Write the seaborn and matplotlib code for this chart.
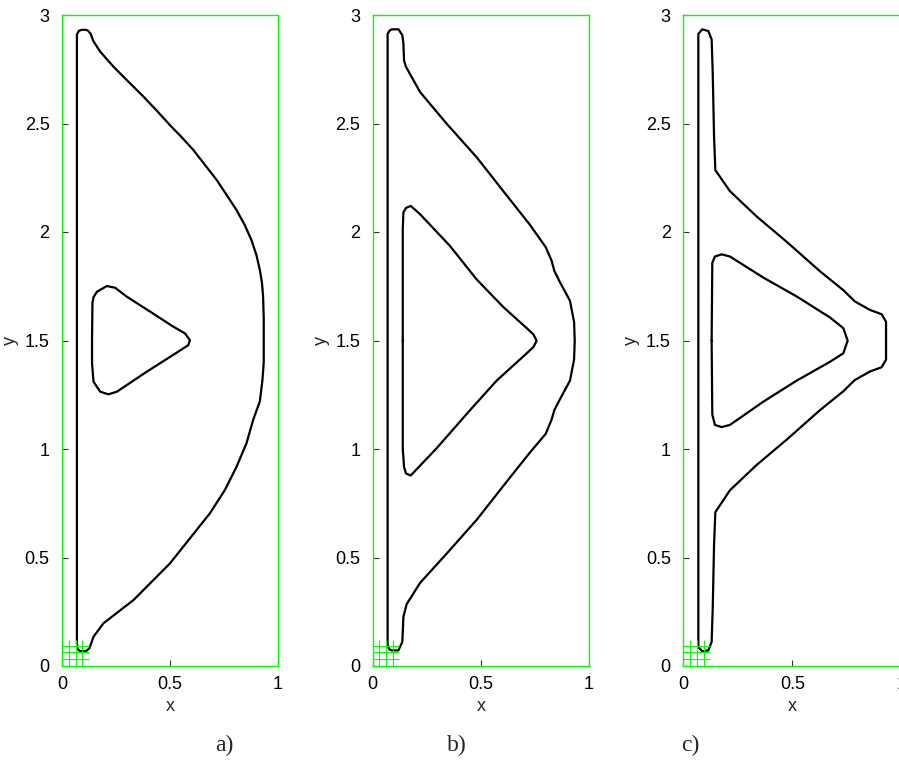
import numpy as np
import pandas as pd
import matplotlib
matplotlib.use("Agg")
import matplotlib.pyplot as plt
import seaborn as sns

sns.set_theme(style="white")
plt.rcParams["font.family"] = ["Liberation Sans", "DejaVu Sans"]

# ---- boundary contours (x, y) for the three designs ----
a_outer_x = [0.069, 0.069, 0.078, 0.092, 0.116, 0.132, 0.145, 0.177, 0.238, 0.300, 0.377, 0.439,
             0.500, 0.554, 0.608, 0.665, 0.716, 0.762, 0.808, 0.846, 0.877, 0.900, 0.916, 0.926,
             0.931, 0.934, 0.934, 0.928, 0.916, 0.885, 0.854, 0.808, 0.754, 0.685, 0.592, 0.500,
             0.415, 0.331, 0.261, 0.192, 0.146, 0.127, 0.112, 0.085, 0.072, 0.069]
a_outer_y = [0.105, 2.910, 2.927, 2.932, 2.931, 2.915, 2.880, 2.831, 2.762, 2.700, 2.624, 2.559,
             2.492, 2.437, 2.378, 2.305, 2.240, 2.171, 2.101, 2.032, 1.963, 1.894, 1.825, 1.764,
             1.702, 1.600, 1.400, 1.318, 1.220, 1.134, 1.026, 0.918, 0.811, 0.704, 0.588, 0.473,
             0.388, 0.304, 0.250, 0.197, 0.135, 0.082, 0.069, 0.068, 0.078, 0.105]
a_inner_x = [0.139, 0.141, 0.146, 0.162, 0.208, 0.246, 0.300, 0.408, 0.515, 0.569, 0.592, 0.585,
             0.531, 0.392, 0.254, 0.215, 0.177, 0.146, 0.139, 0.139]
a_inner_y = [1.500, 1.673, 1.700, 1.725, 1.751, 1.743, 1.702, 1.633, 1.564, 1.533, 1.502, 1.479,
             1.444, 1.356, 1.264, 1.252, 1.264, 1.310, 1.395, 1.500]

b_outer_x = [0.069, 0.069, 0.078, 0.088, 0.119, 0.137, 0.142, 0.145, 0.154, 0.219, 0.342, 0.481,
             0.604, 0.727, 0.800, 0.827, 0.840, 0.865, 0.912, 0.931, 0.934, 0.931, 0.912, 0.865,
             0.840, 0.827, 0.800, 0.727, 0.604, 0.481, 0.342, 0.219, 0.157, 0.142, 0.137, 0.119,
             0.088, 0.078, 0.069]
b_outer_y = [0.091, 2.913, 2.928, 2.934, 2.934, 2.907, 2.868, 2.790, 2.761, 2.645, 2.499, 2.344,
             2.188, 2.033, 1.930, 1.868, 1.820, 1.770, 1.683, 1.586, 1.499, 1.412, 1.315, 1.228,
             1.180, 1.135, 1.070, 0.984, 0.830, 0.674, 0.518, 0.383, 0.285, 0.227, 0.111, 0.072,
             0.072, 0.076, 0.091]
b_inner_x = [0.139, 0.139, 0.142, 0.154, 0.176, 0.219, 0.357, 0.481, 0.604, 0.712, 0.743, 0.758,
             0.743, 0.712, 0.573, 0.450, 0.296, 0.176, 0.154, 0.145, 0.139, 0.139]
b_inner_y = [1.500, 2.014, 2.091, 2.111, 2.120, 2.082, 1.936, 1.781, 1.654, 1.557, 1.528, 1.499,
             1.470, 1.441, 1.315, 1.179, 1.004, 0.878, 0.887, 0.917, 1.000, 1.500]

c_outer_x = [0.069, 0.069, 0.087, 0.115, 0.130, 0.135, 0.141, 0.147, 0.214, 0.336, 0.474, 0.627,
             0.734, 0.787, 0.856, 0.910, 0.930, 0.930, 0.910, 0.856, 0.787, 0.734, 0.627, 0.474,
             0.336, 0.214, 0.147, 0.141, 0.135, 0.130, 0.115, 0.087, 0.069]
c_outer_y = [0.087, 2.913, 2.934, 2.926, 2.887, 2.732, 2.441, 2.285, 2.188, 2.072, 1.955, 1.819,
             1.732, 1.680, 1.641, 1.621, 1.586, 1.412, 1.377, 1.357, 1.318, 1.266, 1.179, 1.043,
             0.926, 0.810, 0.709, 0.557, 0.266, 0.111, 0.072, 0.068, 0.087]
c_inner_x = [0.130, 0.133, 0.145, 0.176, 0.214, 0.367, 0.520, 0.673, 0.734, 0.754, 0.734, 0.673,
             0.520, 0.367, 0.214, 0.176, 0.145, 0.133, 0.130]
c_inner_y = [1.500, 1.858, 1.887, 1.897, 1.887, 1.790, 1.703, 1.606, 1.557, 1.499, 1.441, 1.402,
             1.315, 1.218, 1.111, 1.101, 1.111, 1.159, 1.500]

panel_labels = ["a)", "b)", "c)"]
x_ticks = [0, 0.5, 1]
y_ticks = [0, 0.5, 1, 1.5, 2, 2.5, 3]
tick_labels_x = ["0", "0.5", "1"]
tick_labels_y = ["0", "0.5", "1", "1.5", "2", "2.5", "3"]

# corner mesh cells
mesh_v = [0.0, 1 / 32, 2 / 32, 3 / 32]
mesh_h = [0.0, 1 / 32, 2 / 32, 3 / 32]

contours = [
    [(a_outer_x, a_outer_y), (a_inner_x, a_inner_y)],
    [(b_outer_x, b_outer_y), (b_inner_x, b_inner_y)],
    [(c_outer_x, c_outer_y), (c_inner_x, c_inner_y)],
]

W, H = 899, 762
fig = plt.figure(figsize=(W / 100, H / 100), dpi=100)
green = "#00ff00"
lefts = [62, 372.7, 683.3]
widths = [216, 216.3, 218]
label_x = [224, 457, 690]

for i, (left, wd) in enumerate(zip(lefts, widths)):
    ax = fig.add_axes([left / W, (H - 666) / H, wd / W, 651 / H])
    for cx, cy in contours[i]:
        df = pd.DataFrame({"x": cx, "y": cy})
        sns.lineplot(data=df, x="x", y="y", sort=False, estimator=None, ax=ax,
                     color="black", linewidth=1.6, solid_joinstyle="round")
    ax.vlines(mesh_v, 0, 0.12, colors=green, linewidth=0.8, clip_on=False)
    ax.hlines(mesh_h, 0, 0.123, colors=green, linewidth=0.8, clip_on=False)
    ax.set_xlim(0, 1)
    ax.set_ylim(0, 3)
    ax.set_xticks(x_ticks)
    ax.set_xticklabels(tick_labels_x)
    ax.set_yticks(y_ticks)
    ax.set_yticklabels(tick_labels_y)
    ax.tick_params(direction="in", length=4, width=0.8, color="#333333",
                   labelsize=13, labelcolor="black", bottom=True, left=True,
                   top=False, right=False)
    ax.tick_params(axis="x", pad=7)
    ax.tick_params(axis="y", pad=9)
    for s in ax.spines.values():
        s.set_visible(True)
        s.set_color(green)
        s.set_linewidth(1.0)
    ax.set_xlabel("x", fontsize=13, labelpad=4)
    ax.set_ylabel("y", fontsize=13, labelpad=4)
    ax.grid(False)
    fig.text(label_x[i] / W, 1 - 745 / H, panel_labels[i], fontsize=17,
             family=["Liberation Serif", "DejaVu Serif"], ha="center", va="center")

fig.savefig("out.png", dpi=100)
